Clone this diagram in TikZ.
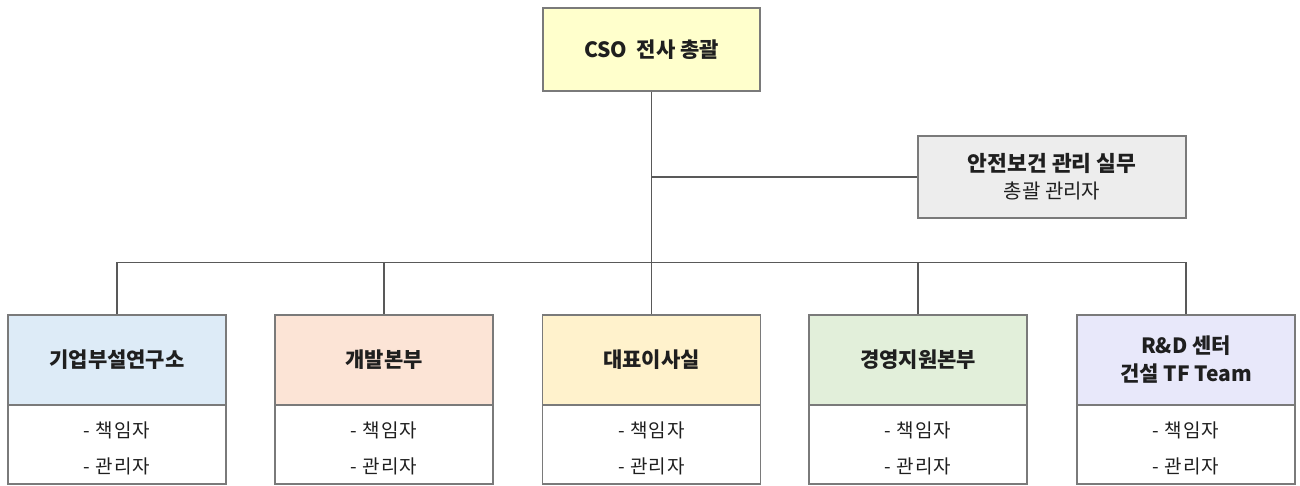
\documentclass[tikz,border=0pt]{standalone}
\usepackage{fontspec}
\setmainfont{Noto Sans CJK KR}
\definecolor{bordc}{HTML}{7A7A7A}
\definecolor{linec}{HTML}{595959}
\definecolor{fcso}{HTML}{FFFFCC}
\definecolor{fsafe}{HTML}{EDEDED}
\definecolor{fa}{HTML}{DDEBF7}
\definecolor{fb}{HTML}{FCE4D6}
\definecolor{fc}{HTML}{FFF2CC}
\definecolor{fd}{HTML}{E2EFDA}
\definecolor{fe}{HTML}{E8E8FA}
\tikzset{
  boxbase/.style={draw=bordc, line width=1.3pt, inner sep=0pt, align=center, text=black!88},
  hdr/.style={boxbase, minimum width=218pt, minimum height=90pt, font=\bfseries\fontsize{21}{28}\selectfont},
  det/.style={boxbase, fill=white, minimum width=218pt, minimum height=79pt},
  dettext/.style={inner sep=0pt, align=center, text=black!88, font=\addfontfeatures{LetterSpace=6}\fontsize{19}{36}\selectfont},
  conn/.style={draw=linec, line width=1.3pt}
}
\begin{document}
\begin{tikzpicture}[x=1pt,y=-1pt]
\useasboundingbox (0,0) rectangle (1300,486);
% top nodes
\node[boxbase, fill=fcso, minimum width=217pt, minimum height=83pt, font=\bfseries\fontsize{21}{28}\selectfont] (cso) at (651.5,49.5) {CSO\ \ 전사 총괄};
\node[boxbase, fill=fsafe, minimum width=268pt, minimum height=82pt, font=\fontsize{20}{27}\selectfont] (safe) at (1052,177) {{\bfseries\fontsize{21.5}{27}\selectfont 안전보건 관리 실무}\\총괄 관리자};
% bottom header nodes
\node[hdr, fill=fa] (h1) at (117,360) {기업부설연구소};
\node[hdr, fill=fb] (h2) at (384,360) {개발본부};
\node[hdr, fill=fc] (h3) at (651.5,360) {대표이사실};
\node[hdr, fill=fd] (h4) at (918,360) {경영지원본부};
\node[hdr, fill=fe] (h5) at (1186,360) {R\&D 센터\\건설 TF Team};
% detail boxes
\node[det] (d1) at (117,444.5) {};
\node[det] (d2) at (384,444.5) {};
\node[det] (d3) at (651.5,444.5) {};
\node[det] (d4) at (918,444.5) {};
\node[det] (d5) at (1186,444.5) {};
% detail texts
\node[dettext, yshift=-4pt] (t1) at (d1.center) {- 책임자\\- 관리자};
\node[dettext, yshift=-4pt] (t2) at (d2.center) {- 책임자\\- 관리자};
\node[dettext, yshift=-4pt] (t3) at (d3.center) {- 책임자\\- 관리자};
\node[dettext, yshift=-4pt] (t4) at (d4.center) {- 책임자\\- 관리자};
\node[dettext, yshift=-4pt] (t5) at (d5.center) {- 책임자\\- 관리자};
% connectors
\coordinate (k) at (651.5,177);
\coordinate (j) at (651.5,262.5);
\draw[conn] (cso.south) -- (j);
\draw[conn] (k) -- (safe.west);
\draw[conn] (h1.north) -- (h1.north |- j) -- (h5.north |- j) -- (h5.north);
\draw[conn] (h2.north) -- (h2.north |- j);
\draw[conn] (h3.north) -- (j);
\draw[conn] (h4.north) -- (h4.north |- j);
\end{tikzpicture}
\end{document}
